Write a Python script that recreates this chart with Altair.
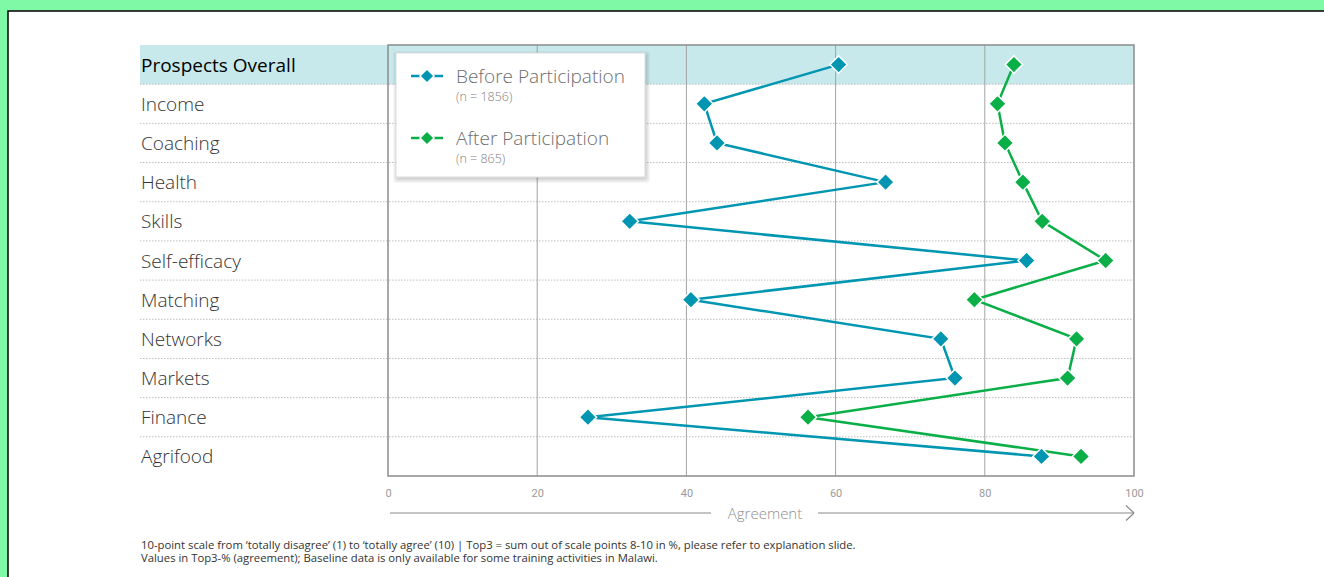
import altair as alt
import pandas as pd

categories = ["Prospects Overall", "Income", "Coaching", "Health", "Skills",
              "Self-efficacy", "Matching", "Networks", "Markets", "Finance", "Agrifood"]
before = [60.4, 42.4, 44.1, 66.7, 32.4, 85.6, 40.6, 74.1, 76.0, 26.8, 87.6]
after = [83.9, 81.7, 82.7, 85.1, 87.7, 96.2, 78.6, 92.3, 91.1, 56.3, 92.9]
series = ["Before Participation", "After Participation"]
series_n = ["(n = 1856)", "(n = 865)"]
colors = ["#0096B2", "#0AAF48"]
ticks = [0, 20, 40, 60, 80, 100]
grid_vals = [20, 40, 60, 80]
axis_title = "Agreement"
footnotes = ["10-point scale from \u2018totally disagree\u2019 (1) to \u2018totally agree\u2019 (10) | Top3 = sum out of scale points 8-10 in %, please refer to explanation slide.",
             "Values in Top3-% (agreement); Baseline data is only available for some training activities in Malawi."]

W, H = 746, 431
ROW = H / len(categories)
FONT = "Open Sans"

rows = []
for s, vals in zip(series, [before, after]):
    for i, (c, v) in enumerate(zip(categories, vals)):
        rows.append({"series": s, "cat": c, "value": v, "idx": i})
df = pd.DataFrame(rows)
cat_df = pd.DataFrame({"cat": categories})
one = pd.DataFrame({"a": [0]})

xscale = alt.Scale(domain=[0, 100], nice=False, zero=False)
yscale = alt.Scale(domain=categories, paddingInner=0, paddingOuter=0)
cscale = alt.Scale(domain=series, range=colors)
ycat = alt.Y("cat:N", scale=yscale, sort=categories, axis=None)

# slide background
slide = alt.Chart(one).mark_rect(fill="white", stroke="black", strokeWidth=1.5).encode(
    x=alt.value(-380), x2=alt.value(960), y=alt.value(-34), y2=alt.value(560))

band = alt.Chart(cat_df).transform_filter(alt.datum.cat == categories[0]).mark_rect(
    fill="#C7E9EC").encode(y=ycat, x=alt.value(-248), x2=alt.value(W))

seps = alt.Chart(cat_df).transform_filter(alt.datum.cat != categories[-1]).mark_rule(
    color="#bdbdbd", strokeDash=[1.5, 1.5], strokeWidth=1, yOffset=ROW / 2).encode(
    y=ycat, x=alt.value(-248), x2=alt.value(W))

grid = alt.Chart(pd.DataFrame({"v": grid_vals})).mark_rule(
    color="#a3a3a3", strokeWidth=1).encode(
    x=alt.X("v:Q", scale=xscale,
            axis=alt.Axis(values=ticks, grid=False, domain=False, ticks=False,
                          labelColor="#9a9a9a", labelFont="Roboto", labelFontSize=11,
                          labelPadding=11, labelFlush=False, title="", zindex=2)),
    y=alt.value(0), y2=alt.value(H))

border = alt.Chart(one).mark_rect(fillOpacity=0, stroke="#8c8c8c", strokeWidth=1.5).encode(
    x=alt.value(0), x2=alt.value(W), y=alt.value(0), y2=alt.value(H))

xval = alt.X("value:Q", scale=xscale)
lines = alt.Chart(df).mark_line(strokeWidth=2.5).encode(
    x=xval, y=ycat,
    color=alt.Color("series:N", scale=cscale, legend=None),
    order="idx:Q", detail="series:N")
points = alt.Chart(df).mark_point(shape="diamond", filled=True, size=300, opacity=1,
                                  stroke="white", strokeWidth=1.5).encode(
    fill=alt.Fill("series:N", scale=cscale, legend=None),
    x=xval, y=ycat)

label_main = alt.Chart(cat_df).transform_filter(alt.datum.cat == categories[0]).mark_text(
    align="left", baseline="middle", font=FONT, fontSize=19, fontWeight=400, dy=1,
    color="#000000").encode(y=ycat, x=alt.value(-247), text="cat:N")
label_rest = alt.Chart(cat_df).transform_filter(alt.datum.cat != categories[0]).mark_text(
    align="left", baseline="middle", font=FONT, fontSize=19, fontWeight=300, dy=1,
    color="#333333").encode(y=ycat, x=alt.value(-247), text="cat:N")

# legend box
legend_layers = []
for k in range(1, 6):
    legend_layers.append(alt.Chart(one).mark_rect(fill="black", opacity=0.035, cornerRadius=3).encode(
        x=alt.value(8 - k + 2), x2=alt.value(257 + k), y=alt.value(8 - k + 3), y2=alt.value(132 + k + 1)))
legend_layers.append(alt.Chart(one).mark_rect(fill="white", stroke="#dddddd", strokeWidth=1).encode(
    x=alt.value(8), x2=alt.value(257), y=alt.value(8), y2=alt.value(132)))
for i, (s, n, c) in enumerate(zip(series, series_n, colors)):
    yy = 31 + i * 62
    legend_layers.append(alt.Chart(one).mark_rule(color=c, strokeWidth=2.5).encode(
        x=alt.value(23), x2=alt.value(55), y=alt.value(yy)))
    legend_layers.append(alt.Chart(one).mark_point(shape="diamond", filled=True, size=200,
                                                  fill=c, stroke="white", strokeWidth=1.5, opacity=1).encode(
        x=alt.value(39), y=alt.value(yy)))
    legend_layers.append(alt.Chart(one).mark_text(text=s, align="left", baseline="middle",
                                                 font=FONT, fontSize=19, fontWeight=300, dy=1,
                                                 color="#6e6e6e").encode(
        x=alt.value(68), y=alt.value(yy)))
    legend_layers.append(alt.Chart(one).mark_text(text=n, align="left", baseline="middle",
                                                 font=FONT, fontSize=12.5, fontWeight=300,
                                                 color="#808080").encode(
        x=alt.value(68), y=alt.value(yy + 21)))

# axis arrow and title
AY = 468
arrow = [
    alt.Chart(one).mark_rule(color="#8a8a8a", strokeWidth=1.2).encode(
        x=alt.value(2), x2=alt.value(323), y=alt.value(AY)),
    alt.Chart(one).mark_rule(color="#8a8a8a", strokeWidth=1.2).encode(
        x=alt.value(430), x2=alt.value(W), y=alt.value(AY)),
    alt.Chart(one).mark_rule(color="#8a8a8a", strokeWidth=1.2).encode(
        x=alt.value(W - 8), x2=alt.value(W), y=alt.value(AY - 7.5), y2=alt.value(AY)),
    alt.Chart(one).mark_rule(color="#8a8a8a", strokeWidth=1.2).encode(
        x=alt.value(W - 8), x2=alt.value(W), y=alt.value(AY + 7.5), y2=alt.value(AY)),
    alt.Chart(one).mark_text(text=axis_title, align="center", baseline="middle",
                             font=FONT, fontSize=15, fontWeight=300, color="#8f8f8f", dy=1).encode(
        x=alt.value(377), y=alt.value(AY)),
]

foot = [alt.Chart(one).mark_text(text=t, align="left", baseline="middle", font=FONT,
                                 fontSize=11.3, color="#333333").encode(
    x=alt.value(-247), y=alt.value(501 + 13 * i)) for i, t in enumerate(footnotes)]

chart = alt.layer(slide, band, seps, grid, border, lines, points, label_main, label_rest,
                  *legend_layers, *arrow, *foot).properties(
    width=W, height=H,
    padding={"left": 388, "top": 45, "right": 1324 - 388 - W, "bottom": 577 - 45 - H},
    autosize="none",
).configure(background="#80F9A7").configure_view(stroke=None)

chart.save("out.html", embed_options={"renderer": "svg", "actions": False})
